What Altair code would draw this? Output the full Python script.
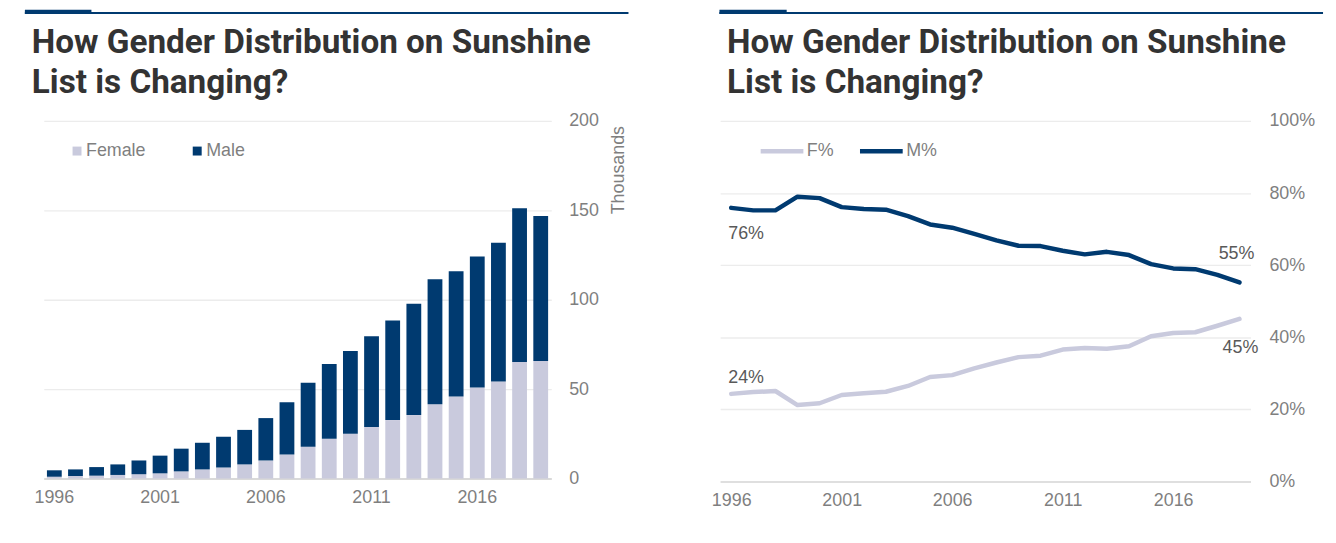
import altair as alt
import pandas as pd

# ---------------- data ----------------
YEARS = list(range(1996, 2020))
FEMALE_K = [1.0, 1.4, 1.6, 2.0, 2.4, 2.9, 4.0, 5.1, 6.2, 7.9, 10.1, 13.4,
            17.8, 22.2, 25.0, 28.8, 32.7, 35.5, 41.5, 45.9, 50.9, 54.2, 65.2, 65.8]
MALE_K = [3.6, 3.7, 4.8, 5.9, 7.7, 9.9, 12.7, 14.9, 17.1, 19.3, 23.7, 29.2,
          35.8, 41.9, 46.3, 50.8, 55.7, 62.2, 70.0, 70.0, 73.3, 77.7, 86.0, 81.0]
F_PCT = [24.3, 24.8, 25.1, 21.2, 21.7, 24.0, 24.5, 24.9, 26.5, 29.0, 29.5, 31.4,
         33.0, 34.5, 34.9, 36.6, 37.0, 36.8, 37.5, 40.3, 41.2, 41.4, 43.2, 45.1]
M_PCT = [75.9, 75.2, 75.2, 79.0, 78.6, 76.1, 75.6, 75.4, 73.6, 71.3, 70.4, 68.7,
         66.9, 65.4, 65.3, 64.0, 63.0, 63.7, 62.8, 60.3, 59.1, 58.9, 57.3, 55.2]
BAR_SERIES = ["Female", "Male"]
LINE_SERIES = ["F%", "M%"]
TITLE = "How Gender Distribution on Sunshine\nList is Changing?"
X_TICKS = [1996, 2001, 2006, 2011, 2016]
Y_TICKS_K = [0, 50, 100, 150, 200]
Y_TICKS_PCT = [0, 20, 40, 60, 80, 100]
Y_TITLE = "Thousands"

NAVY = "#003a70"
LAVENDER = "#c9cadd"
TICK_GRAY = "#7f7f7f"
LABEL_GRAY = "#595959"
FONT = "Liberation Sans"

n = len(YEARS)
bars_df = pd.DataFrame({
    "year": YEARS * 2,
    "series": [BAR_SERIES[0]] * n + [BAR_SERIES[1]] * n,
    "value": FEMALE_K + MALE_K,
    "order": [0] * n + [1] * n,
})
lines_df = pd.DataFrame({
    "year": YEARS * 2,
    "series": [LINE_SERIES[0]] * n + [LINE_SERIES[1]] * n,
    "pct": F_PCT + M_PCT,
})
title_df = pd.DataFrame({"title": [TITLE]})

LW, LH = 511, 360
RW, RH = 534, 363


def header(x0, xb, xl, tx):
    ytop, yline, ybot, ty = -112, -109.8, -107.7, -68
    base = alt.Chart(title_df)
    block = base.mark_rect(color=NAVY).encode(
        x=alt.value(x0), x2=alt.value(xb), y=alt.value(ytop), y2=alt.value(ybot))
    line = base.mark_rect(color=NAVY).encode(
        x=alt.value(x0), x2=alt.value(xl), y=alt.value(yline), y2=alt.value(ybot))
    title = base.mark_text(
        align="left", baseline="alphabetic", lineBreak="\n", lineHeight=40,
        font="Roboto", fontWeight="bold", fontSize=33.5, color="#333333",
    ).encode(x=alt.value(tx), y=alt.value(ty), text="title:N")
    return [block, line, title]


x_axis_common = dict(values=X_TICKS, title=None, labelAngle=0, ticks=False,
                     domainColor="#d9d9d9", labelPadding=10, grid=False)

# ---------------- left: stacked bars ----------------
bars = alt.Chart(bars_df).mark_bar().encode(
    x=alt.X("year:O",
            scale=alt.Scale(paddingInner=0.3, paddingOuter=0.15),
            axis=alt.Axis(domainWidth=2, **x_axis_common)),
    y=alt.Y("value:Q", stack="zero",
            scale=alt.Scale(domain=[0, 200]),
            axis=alt.Axis(orient="right", values=Y_TICKS_K, title=Y_TITLE,
                          titleAngle=270, titleX=68, titleY=49,
                          titleAlign="center", titleBaseline="middle",
                          titleFont=FONT, titleFontSize=18, titleFontWeight="normal",
                          titleColor=TICK_GRAY,
                          domain=False, ticks=False, labelPadding=17.5)),
    color=alt.Color("series:N",
                    scale=alt.Scale(domain=BAR_SERIES, range=[LAVENDER, NAVY]),
                    legend=alt.Legend(orient="none", legendX=24.5, legendY=21.3,
                                      direction="horizontal", title=None,
                                      symbolType="square", symbolSize=81,
                                      symbolStrokeWidth=0,
                                      labelFont=FONT, labelFontSize=18,
                                      labelColor=TICK_GRAY, columnPadding=42,
                                      labelOffset=0, padding=0)),
    order=alt.Order("order:Q"),
)

left = alt.layer(
    *header(-19, 48, 588.7, -12),
    bars,
).properties(width=LW, height=LH)

# ---------------- right: percentage lines ----------------
base_lines = alt.Chart(lines_df).encode(
    x=alt.X("year:O", axis=alt.Axis(domainWidth=1.6, **x_axis_common)),
    y=alt.Y("pct:Q", scale=alt.Scale(domain=[0, 100]),
            axis=alt.Axis(orient="right", values=Y_TICKS_PCT,
                          labelExpr="datum.value + '%'", title=None,
                          domain=False, ticks=False, labelPadding=18.5)),
)

lines = base_lines.mark_line(strokeWidth=4.5, strokeCap="round", strokeJoin="round").encode(
    color=alt.Color("series:N",
                    scale=alt.Scale(domain=LINE_SERIES, range=[LAVENDER, NAVY]),
                    legend=alt.Legend(orient="none", legendX=38.3, legendY=6.6,
                                      direction="horizontal", title=None,
                                      symbolType="stroke", symbolSize=1849,
                                      symbolStrokeWidth=4.5,
                                      labelFont=FONT, labelFontSize=18,
                                      labelColor=TICK_GRAY, columnPadding=17,
                                      labelOffset=1, padding=0)),
)


def pct_label(year, series, align, dx, dy):
    return base_lines.transform_filter(
        (alt.datum.year == year) & (alt.datum.series == series)
    ).transform_calculate(
        label="format(datum.pct, '.0f') + '%'"
    ).mark_text(align=align, baseline="alphabetic", dx=dx, dy=dy,
                font=FONT, fontSize=18, color=LABEL_GRAY).encode(text="label:N")


labels = [
    pct_label(YEARS[0], LINE_SERIES[1], "left", -3, 31),
    pct_label(YEARS[0], LINE_SERIES[0], "left", -3, -11),
    pct_label(YEARS[-1], LINE_SERIES[1], "right", 15, -24),
    pct_label(YEARS[-1], LINE_SERIES[0], "right", 19, 34),
]

right = alt.layer(
    *header(-0.7, 67, 607, 7),
    lines,
    *labels,
).properties(width=RW, height=RH)

chart = alt.hconcat(left, right, spacing=83).resolve_scale(
    color="independent"
).resolve_legend(color="independent").properties(
    padding={"left": 17, "top": 0, "right": 5, "bottom": 5}
).configure_view(stroke=None).configure_axis(
    labelFont=FONT, labelFontSize=18, labelColor=TICK_GRAY,
    gridColor="#ececec", gridWidth=1.3,
)

chart.save("out.html", embed_options={"renderer": "svg", "actions": False})
